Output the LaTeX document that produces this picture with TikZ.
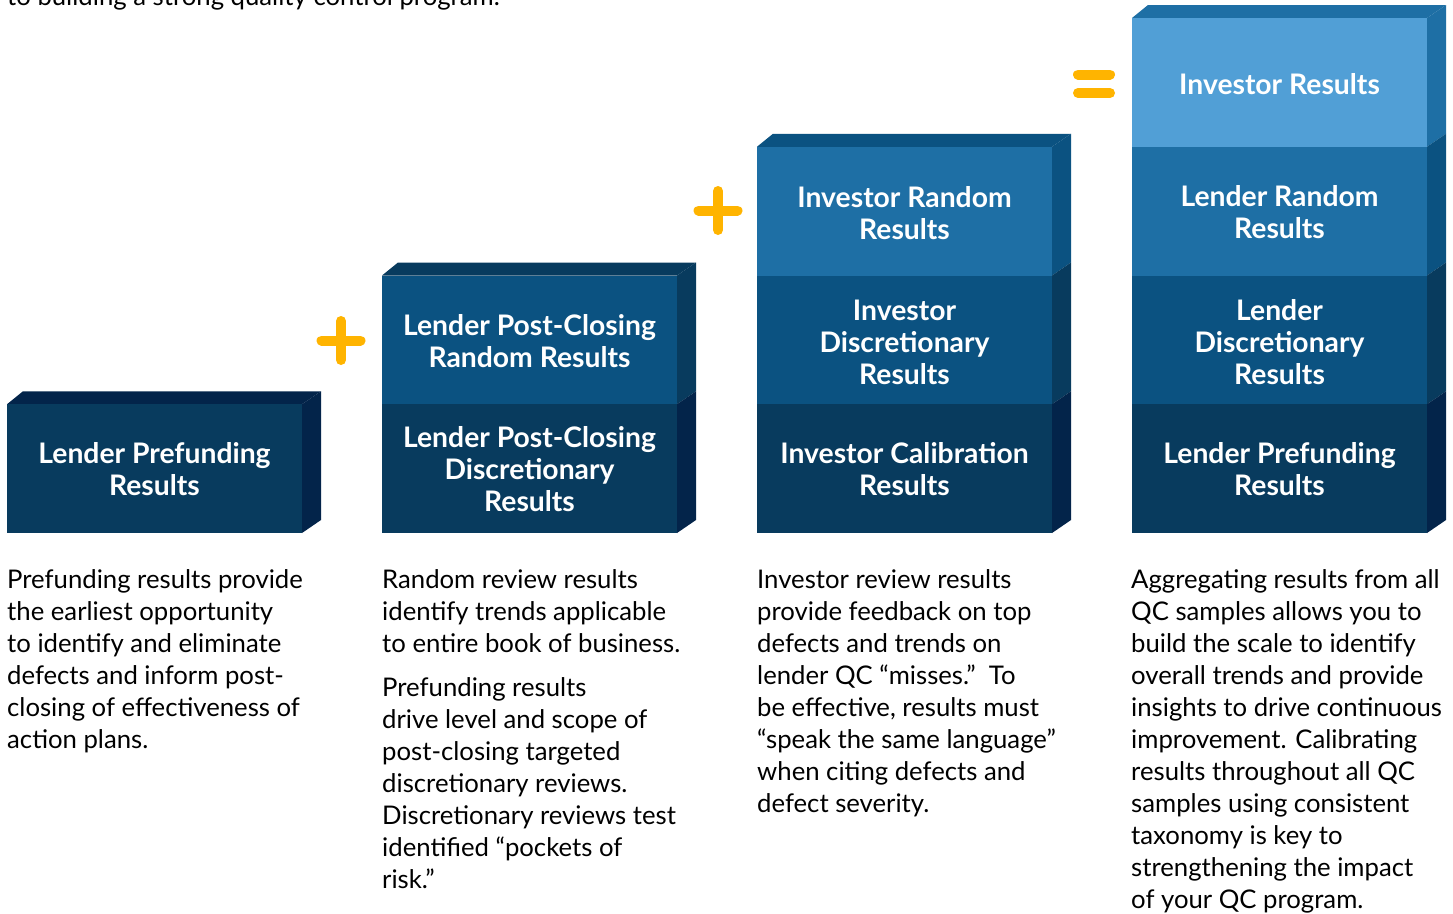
\documentclass[tikz,border=0pt]{standalone}
\usepackage{fontspec}
\setmainfont{Lato}

% blues, from darkest to lightest
\definecolor{blueA}{HTML}{03244A}
\definecolor{blueB}{HTML}{083B5E}
\definecolor{blueC}{HTML}{0B5281}
\definecolor{blueD}{HTML}{1E6FA5}
\definecolor{blueE}{HTML}{519FD6}
\definecolor{signyellow}{HTML}{FFB400}

% one layer of a stack: x, top, front colour, side colour
\newcommand{\slab}[4]{%
  \fill[#3] (#1,#2) rectangle ++(295,128.75);
  \fill[#4] (#1+295,#2) -- ++(19,-13) -- ++(0,128.75) -- ++(-19,13) -- cycle;
}
% top face of a stack: x, top, colour
\newcommand{\lid}[3]{%
  \fill[#3] (#1,#2) -- ++(295,0) -- ++(19,-13) -- ++(-298,0) -- cycle;
}

\tikzset{
  boxtext/.style={text=white, align=center, inner sep=0pt,
    font=\bfseries\fontsize{28.3}{32}\selectfont},
  % placed at the baseline of the last line
  note/.style={anchor=base west, align=left, inner sep=0pt,
    font=\fontsize{25.7}{32}\selectfont},
  sign/.style={draw=signyellow, line width=10pt, line cap=round},
}

\begin{document}
\begin{tikzpicture}[x=1pt,y=-1pt]

    \clip (0,0) rectangle (1453,913);
    \fill[white] (0,0) rectangle (1453,913);

    % Heading (runs off the top)
    \node[note] (heading) at (7,5) {to building a strong quality control program.};

    % Stack 1
    \lid{7}{404.25}{blueA}
    \slab{7}{404.25}{blueB}{blueA}
    \node[boxtext] (prefundA) at (154.5,469) {Lender Prefunding\\Results};

    % Stack 2
    \lid{382}{275.5}{blueB}
    \slab{382}{275.5}{blueC}{blueB}
    \slab{382}{404.25}{blueB}{blueA}
    \node[boxtext] (pcRandom) at (529.5,341) {Lender Post-Closing\\Random Results};
    \node[boxtext] (pcDiscr) at (529.5,469) {Lender Post-Closing\\Discretionary\\Results};

    % Stack 3
    \lid{757}{146.75}{blueC}
    \slab{757}{146.75}{blueD}{blueC}
    \slab{757}{275.5}{blueC}{blueB}
    \slab{757}{404.25}{blueB}{blueA}
    \node[boxtext] (invRandom) at (904.5,213) {Investor Random\\Results};
    \node[boxtext] (invDiscr) at (904.5,342) {Investor\\Discretionary\\Results};
    \node[boxtext] (invCalib) at (904.5,469) {Investor Calibration\\Results};

    % Stack 4
    \lid{1132}{18}{blueD}
    \slab{1132}{18}{blueE}{blueD}
    \slab{1132}{146.75}{blueD}{blueC}
    \slab{1132}{275.5}{blueC}{blueB}
    \slab{1132}{404.25}{blueB}{blueA}
    \node[boxtext] (invTotal) at (1279.5,84) {Investor Results};
    \node[boxtext] (lenRandom) at (1279.5,212) {Lender Random\\Results};
    \node[boxtext] (lenDiscr) at (1279.5,342) {Lender\\Discretionary\\Results};
    \node[boxtext] (lenPrefund) at (1279.5,469) {Lender Prefunding\\Results};

    % Plus and equals signs
    \draw[sign] (321.5,340.5) -- (360.5,340.5) (341,321) -- (341,360);
    \draw[sign] (698.5,210.5) -- (737.5,210.5) (718,191) -- (718,230);
    \draw[sign] (1078,74.5) -- (1110,74.5) (1078,93) -- (1110,93);

    % Notes under the stacks
    \node[note] (noteA) at (7,748) {Prefunding results provide\\the earliest opportunity\\to identify and eliminate\\defects and inform post-\\closing of effectiveness of\\action plans.};
    \node[note] (noteB) at (382,652) {Random review results\\identify trends applicable\\to entire book of business.};
    \node[note] (noteBB) at (382,888) {Prefunding results\\drive level and scope of\\post-closing targeted\\discretionary reviews.\\Discretionary reviews test\\identified “pockets of\\risk.”};
    \node[note] (noteC) at (757,812) {Investor review results\\provide feedback on top\\defects and trends on\\lender QC “misses.”\ \ To\\be effective, results must\\“speak the same language”\\when citing defects and\\defect severity.};
    \node[note] (noteD) at (1131,908) {Aggregating results from all\\QC samples allows you to\\build the scale to identify\\overall trends and provide\\insights to drive continuous\\improvement. Calibrating\\results throughout all QC\\samples using consistent\\taxonomy is key to\\strengthening the impact\\of your QC program.};
\end{tikzpicture}
\end{document}
